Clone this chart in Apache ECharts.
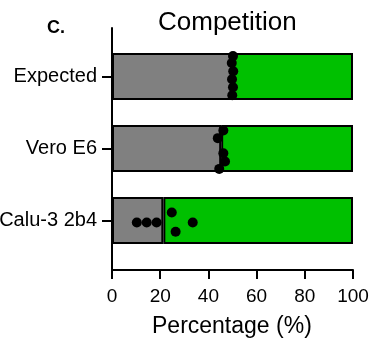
<!DOCTYPE html>
<html>
<head>
<meta charset="utf-8">
<script src="https://cdn.jsdelivr.net/npm/echarts@6/dist/echarts.min.js"></script>
<style>
html,body{margin:0;padding:0;background:#fff;}
#chart{width:391px;height:341px;}
</style>
</head>
<body>
<div id="chart"></div>
<script>
// ---- data ----
var categories = ['Expected', 'Vero E6', 'Calu-3 2b4'];
var grayMeans = [50, 45.3, 21.3];
var xTicks = [0, 20, 40, 60, 80, 100];
// individual points (percentage) and their vertical jitter within the bar (category units)
var expectedPts = [50.2, 49.7, 50.3, 49.8, 50.2, 49.9];
var expectedJitter = [-0.285, -0.19, -0.076, 0.035, 0.146, 0.257];
var veroPts = [46.2, 43.9, 46.2, 46.9, 44.5];
var veroJitter = [-0.257, -0.15, 0.058, 0.174, 0.275];
var caluPts = [10.3, 14.4, 18.5, 24.8, 26.4, 33.5];
var caluJitter = [0.017, 0.017, 0.017, -0.122, 0.146, 0.017];

// the overlay axis spans a little more than the three category bands
var PAD = 0.674;                       // extra room above first / below last category (in bands)
var SPAN = categories.length - 1 + 2 * PAD;
var greenRest = grayMeans.map(function (v) { return 100 - v; });
var pts = [];
[[expectedPts, expectedJitter], [veroPts, veroJitter], [caluPts, caluJitter]].forEach(function (p, i) {
  // overlay value axis: 0 at the bottom, so category i sits at (SPAN - PAD - i)
  p[0].forEach(function (v, j) { pts.push([v, SPAN - PAD - (i + p[1][j])]); });
});

var FONT = 'Liberation Sans, Arial, sans-serif';
var chart = echarts.init(document.getElementById('chart'), null, {renderer: 'canvas'});
chart.setOption({
  animation: false,
  backgroundColor: '#fff',
  title: [
    {text: 'C.', left: 47, top: 19, padding: 0,
     textStyle: {fontSize: 18, fontWeight: 'bold', fontFamily: FONT, color: '#000'}},
    {text: 'Competition', left: 158, top: 10, padding: 0,
     textStyle: {fontSize: 26, fontWeight: 'normal', fontFamily: FONT, color: '#000'}},
    {text: 'Percentage (%)', left: 152, top: 315, padding: 0,
     textStyle: {fontSize: 23, fontWeight: 'normal', fontFamily: FONT, color: '#000'}}
  ],
  grid: [
    {left: 112, right: 38, top: 40.5, height: 216, outerBoundsMode: 'none'},
    {left: 112, right: 38, top: 28, bottom: 71, outerBoundsMode: 'none'}
  ],
  xAxis: [
    {gridIndex: 0, type: 'value', min: 0, max: 100,
     axisLine: {show: false}, axisTick: {show: false}, axisLabel: {show: false}, splitLine: {show: false}},
    {gridIndex: 1, type: 'value', min: xTicks[0], max: xTicks[xTicks.length - 1], interval: 20,
     axisLine: {show: true, lineStyle: {color: '#000', width: 2}},
     axisTick: {show: true, length: 9, lineStyle: {color: '#000', width: 2}},
     axisLabel: {color: '#000', fontSize: 19, fontFamily: FONT, margin: 17},
     splitLine: {show: false}}
  ],
  yAxis: [
    {gridIndex: 0, type: 'category', data: categories, inverse: true,
     axisLine: {show: false},
     axisTick: {show: true, alignWithLabel: true, length: 10, lineStyle: {color: '#000', width: 2}},
     axisLabel: {color: '#000', fontSize: 20, fontFamily: FONT, margin: 15}},
    {gridIndex: 1, type: 'value', min: 0, max: SPAN,
     axisLine: {show: true, lineStyle: {color: '#000', width: 2}},
     axisTick: {show: false}, axisLabel: {show: false}, splitLine: {show: false}}
  ],
  series: [
    {type: 'bar', xAxisIndex: 0, yAxisIndex: 0, stack: 's', data: grayMeans, barWidth: 47,
     itemStyle: {color: '#808080', borderColor: '#000', borderWidth: 2}},
    {type: 'bar', xAxisIndex: 0, yAxisIndex: 0, stack: 's', data: greenRest, barWidth: 47,
     itemStyle: {color: '#00c000', borderColor: '#000', borderWidth: 2}},
    {id: 'pts', type: 'scatter', xAxisIndex: 1, yAxisIndex: 1, data: pts, symbolSize: 10, clip: false,
     itemStyle: {color: '#000', opacity: 1}}
  ]
});

// baseline + outward ticks of the x axis, placed through the axis scale (backup for the axis line)
var tickEnd = chart.convertFromPixel({gridIndex: 1},
  [0, chart.convertToPixel({gridIndex: 1}, [0, 0])[1] + 9])[1];
var baseData = [[{coord: [xTicks[0], 0]}, {coord: [xTicks[xTicks.length - 1], 0]}]];
xTicks.forEach(function (t) { baseData.push([{coord: [t, 0]}, {coord: [t, tickEnd]}]); });
chart.setOption({
  series: [{id: 'pts', markLine: {silent: true, symbol: ['none', 'none'], animation: false,
    label: {show: false}, emphasis: {disabled: true},
    lineStyle: {color: '#000', width: 2, type: 'solid', opacity: 1}, data: baseData}}]
});
</script>
</body>
</html>
